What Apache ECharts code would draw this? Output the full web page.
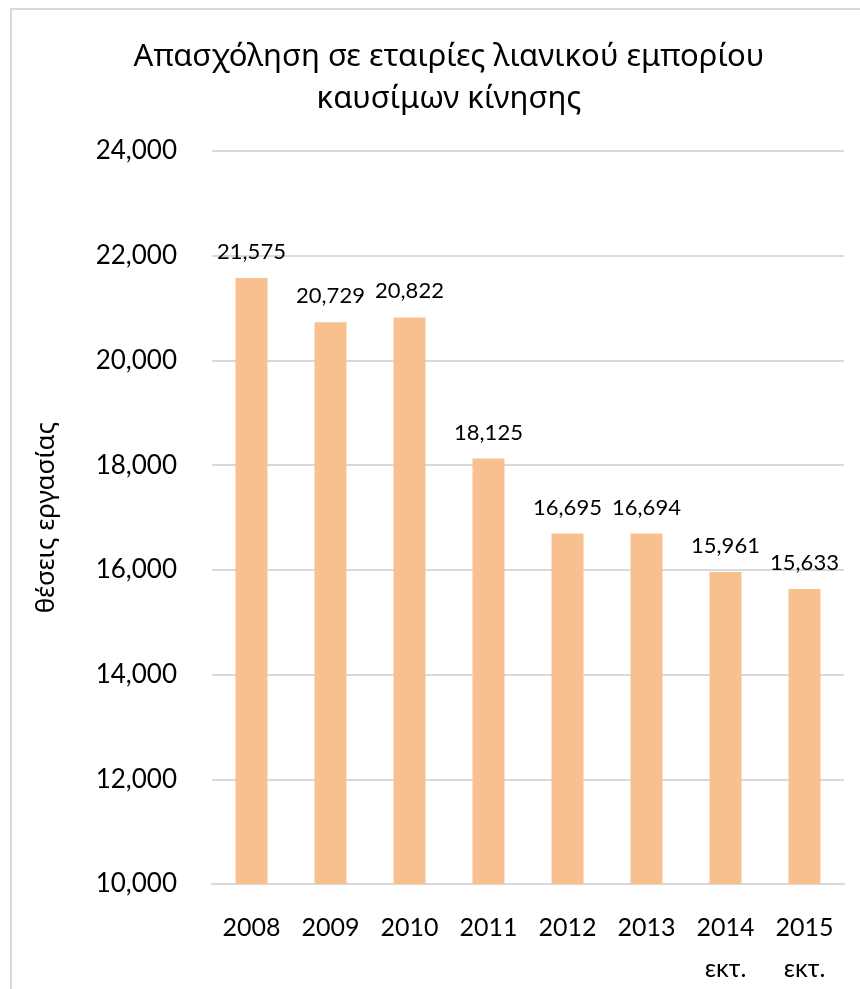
<!DOCTYPE html>
<html>
<head>
<meta charset="utf-8">
<script src="https://cdn.jsdelivr.net/npm/echarts@6/dist/echarts.min.js"></script>
<style>
  html, body { margin: 0; padding: 0; background: #ffffff; }
  #chart { width: 860px; height: 989px; }
</style>
</head>
<body>
<div id="chart"></div>
<script>
const titleLines = ['Απασχόληση σε εταιρίες λιανικού εμπορίου', 'καυσίμων κίνησης'];
const yAxisName = 'θέσεις εργασίας';
const categories = ['2008', '2009', '2010', '2011', '2012', '2013', '2014\nεκτ.', '2015\nεκτ.'];
const jobs = [21575, 20729, 20822, 18125, 16695, 16694, 15961, 15633];
const yMin = 10000;
const yMax = 24000;
const yStep = 2000;

const FONT = "Lato, 'Noto Sans', sans-serif";
const chart = echarts.init(document.getElementById('chart'), null, { renderer: 'canvas' });

chart.setOption({
  backgroundColor: '#ffffff',
  animation: false,
  graphic: [{
    type: 'rect',
    shape: { x: 11, y: 9, width: 900, height: 1000 },
    style: { fill: 'none', stroke: '#d9d9d9', lineWidth: 2 },
    silent: true
  }],
  title: {
    text: titleLines.join('\n'),
    left: 444,
    top: 31,
    textAlign: 'center',
    textStyle: {
      fontFamily: "'Noto Sans', sans-serif",
      fontSize: 31,
      fontWeight: 'normal',
      color: '#000000',
      lineHeight: 42
    }
  },
  grid: { left: 212, right: 16, top: 151, bottom: 104, containLabel: false },
  xAxis: {
    type: 'category',
    data: categories,
    axisLine: { show: true, lineStyle: { color: '#d9d9d9', width: 2 } },
    axisTick: { show: false },
    axisLabel: {
      fontFamily: FONT,
      fontSize: 25,
      color: '#000000',
      margin: 23,
      lineHeight: 41,
      verticalAlign: 'top'
    }
  },
  yAxis: {
    type: 'value',
    min: yMin,
    max: yMax,
    interval: yStep,
    name: yAxisName,
    nameLocation: 'middle',
    nameRotate: 90,
    nameGap: 152,
    nameTextStyle: { fontFamily: "'Noto Sans', sans-serif", fontSize: 26, color: '#000000' },
    axisLine: { show: false },
    axisTick: { show: false },
    splitLine: { lineStyle: { color: '#d9d9d9', width: 2 } },
    axisLabel: {
      fontFamily: FONT,
      fontSize: 26,
      color: '#000000',
      margin: 35,
      formatter: v => v.toLocaleString('en-US')
    }
  },
  series: [{
    type: 'bar',
    data: jobs,
    barWidth: 32,
    itemStyle: { color: '#f9c08f' },
    label: {
      show: true,
      position: 'top',
      distance: 15,
      fontFamily: FONT,
      fontSize: 22,
      color: '#000000',
      formatter: p => p.value.toLocaleString('en-US')
    }
  }]
});
</script>
</body>
</html>
